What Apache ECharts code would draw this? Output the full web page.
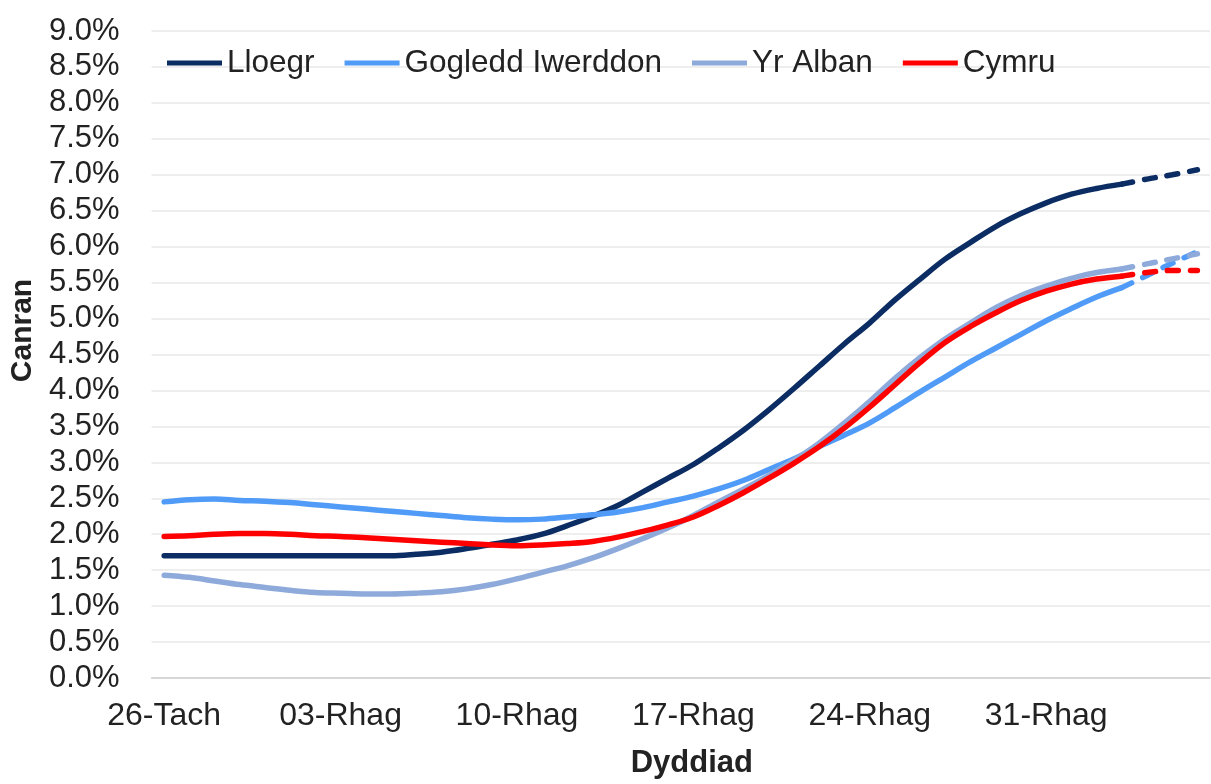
<!DOCTYPE html>
<html>
<head>
<meta charset="utf-8">
<script src="https://cdn.jsdelivr.net/npm/echarts@6/dist/echarts.min.js"></script>
<style>
html,body{margin:0;padding:0;background:#fff;}
#c{width:1211px;height:784px;}
</style>
</head>
<body>
<div id="c"></div>
<script>
// Categories: 26 Nov to 6 Jan (daily)
const categories = [
  '26-Tach','27-Tach','28-Tach','29-Tach','30-Tach',
  '01-Rhag','02-Rhag','03-Rhag','04-Rhag','05-Rhag','06-Rhag','07-Rhag','08-Rhag','09-Rhag',
  '10-Rhag','11-Rhag','12-Rhag','13-Rhag','14-Rhag','15-Rhag','16-Rhag',
  '17-Rhag','18-Rhag','19-Rhag','20-Rhag','21-Rhag','22-Rhag','23-Rhag',
  '24-Rhag','25-Rhag','26-Rhag','27-Rhag','28-Rhag','29-Rhag','30-Rhag',
  '31-Rhag','01-Ion','02-Ion','03-Ion','04-Ion','05-Ion','06-Ion'
];
const seriesNames = ['Lloegr','Gogledd Iwerddon','Yr Alban','Cymru'];
const colors = ['#0b2d63','#4f9bf7','#8eaadb','#ff0000'];

// Observed values (%) up to 03-Ion
const lloegr = [1.70,1.70,1.70,1.70,1.70,1.70,1.70,1.70,1.70,1.70,1.72,1.75,1.80,1.86,
  1.92,2.00,2.12,2.25,2.40,2.59,2.78,2.97,3.20,3.45,3.73,4.03,4.34,4.65,
  4.94,5.26,5.55,5.83,6.06,6.28,6.46,6.61,6.73,6.81,6.87];
const gogledd = [2.45,2.48,2.49,2.47,2.46,2.44,2.41,2.38,2.35,2.32,2.29,2.26,2.23,2.21,
  2.20,2.21,2.24,2.27,2.31,2.37,2.45,2.53,2.63,2.75,2.90,3.05,3.22,3.38,
  3.55,3.76,3.98,4.19,4.40,4.59,4.78,4.97,5.14,5.30,5.43];
const alban = [1.43,1.40,1.35,1.30,1.26,1.22,1.19,1.18,1.17,1.17,1.18,1.20,1.24,1.30,
  1.38,1.47,1.56,1.67,1.80,1.94,2.09,2.26,2.45,2.63,2.82,3.03,3.27,3.55,
  3.85,4.17,4.46,4.72,4.94,5.15,5.32,5.45,5.56,5.64,5.69];
const cymru = [1.97,1.98,2.00,2.01,2.01,2.00,1.98,1.97,1.95,1.93,1.91,1.89,1.87,1.85,
  1.84,1.85,1.87,1.90,1.96,2.04,2.13,2.24,2.40,2.58,2.78,2.99,3.22,3.48,
  3.77,4.08,4.39,4.67,4.89,5.08,5.25,5.38,5.48,5.55,5.59];

// Projected values (%) 03-Ion to 06-Ion (dashed)
const lloegrProj = [6.87,6.94,7.00,7.07];
const gogleddProj = [5.43,5.60,5.77,5.93];
const albanProj = [5.69,5.76,5.83,5.90];
const cymruProj = [5.59,5.64,5.67,5.67];
const projStart = 38;

// Y ticks
const yMin = 0, yMax = 9, yInterval = 0.5;

const observed = [lloegr, gogledd, alban, cymru];
const projected = [lloegrProj, gogleddProj, albanProj, cymruProj];

function padProj(arr){
  const out = new Array(categories.length).fill(null);
  arr.forEach((v,i)=>{ out[projStart+i] = v; });
  return out;
}

const font = '"Liberation Sans", Arial, sans-serif';
const series = [];
observed.forEach((arr, k) => {
  series.push({
    name: seriesNames[k], type: 'line', data: arr, symbol: 'none',
    smooth: 0.35, lineStyle: {width: 5.5, color: colors[k], cap: 'round'},
    itemStyle: {color: colors[k]}, z: 2 + k
  });
});
projected.forEach((arr, k) => {
  series.push({
    name: seriesNames[k], type: 'line', data: padProj(arr), symbol: 'none',
    smooth: 0.35, lineStyle: {width: 5.5, color: colors[k], type: [11, 12], cap: 'round'},
    itemStyle: {color: colors[k]}, z: 2 + k
  });
});

const chart = echarts.init(document.getElementById('c'), null, {renderer: 'canvas'});
chart.setOption({
  animation: false,
  backgroundColor: '#ffffff',
  textStyle: {fontFamily: font},
  grid: {left: 144, right: 1, top: 31, bottom: 99, containLabel: false},
  legend: {
    data: seriesNames, left: 162, top: 42, icon: 'rect', itemWidth: 55, itemHeight: 5,
    itemGap: 30, textStyle: {fontFamily: font, fontSize: 31.5, color: '#222'}
  },
  xAxis: {
    type: 'category', data: categories, boundaryGap: true,
    name: 'Dyddiad', nameLocation: 'middle', nameGap: 70,
    nameTextStyle: {fontFamily: font, fontSize: 31, fontWeight: 'bold', color: '#222', padding: [0,0,0,22]},
    axisLine: {lineStyle: {color: '#d0d0d0', width: 1.5}},
    axisTick: {interval: 6, length: 9, lineStyle: {color: '#d0d0d0', width: 1.5}},
    axisLabel: {interval: 6, fontFamily: font, fontSize: 32, color: '#222', margin: 22},
    splitLine: {show: false}
  },
  yAxis: {
    type: 'value', min: yMin, max: yMax, interval: yInterval,
    name: 'Canran', nameLocation: 'middle', nameGap: 100,
    nameTextStyle: {fontFamily: font, fontSize: 30, fontWeight: 'bold', color: '#222', padding: [0,0,0,48]},
    axisLine: {show: false}, axisTick: {show: false},
    axisLabel: {fontFamily: font, fontSize: 31, color: '#222', margin: 32,
      formatter: v => v.toFixed(1) + '%'},
    splitLine: {lineStyle: {color: '#e8e8e8', width: 1.5}}
  },
  series: series
});
</script>
</body>
</html>
